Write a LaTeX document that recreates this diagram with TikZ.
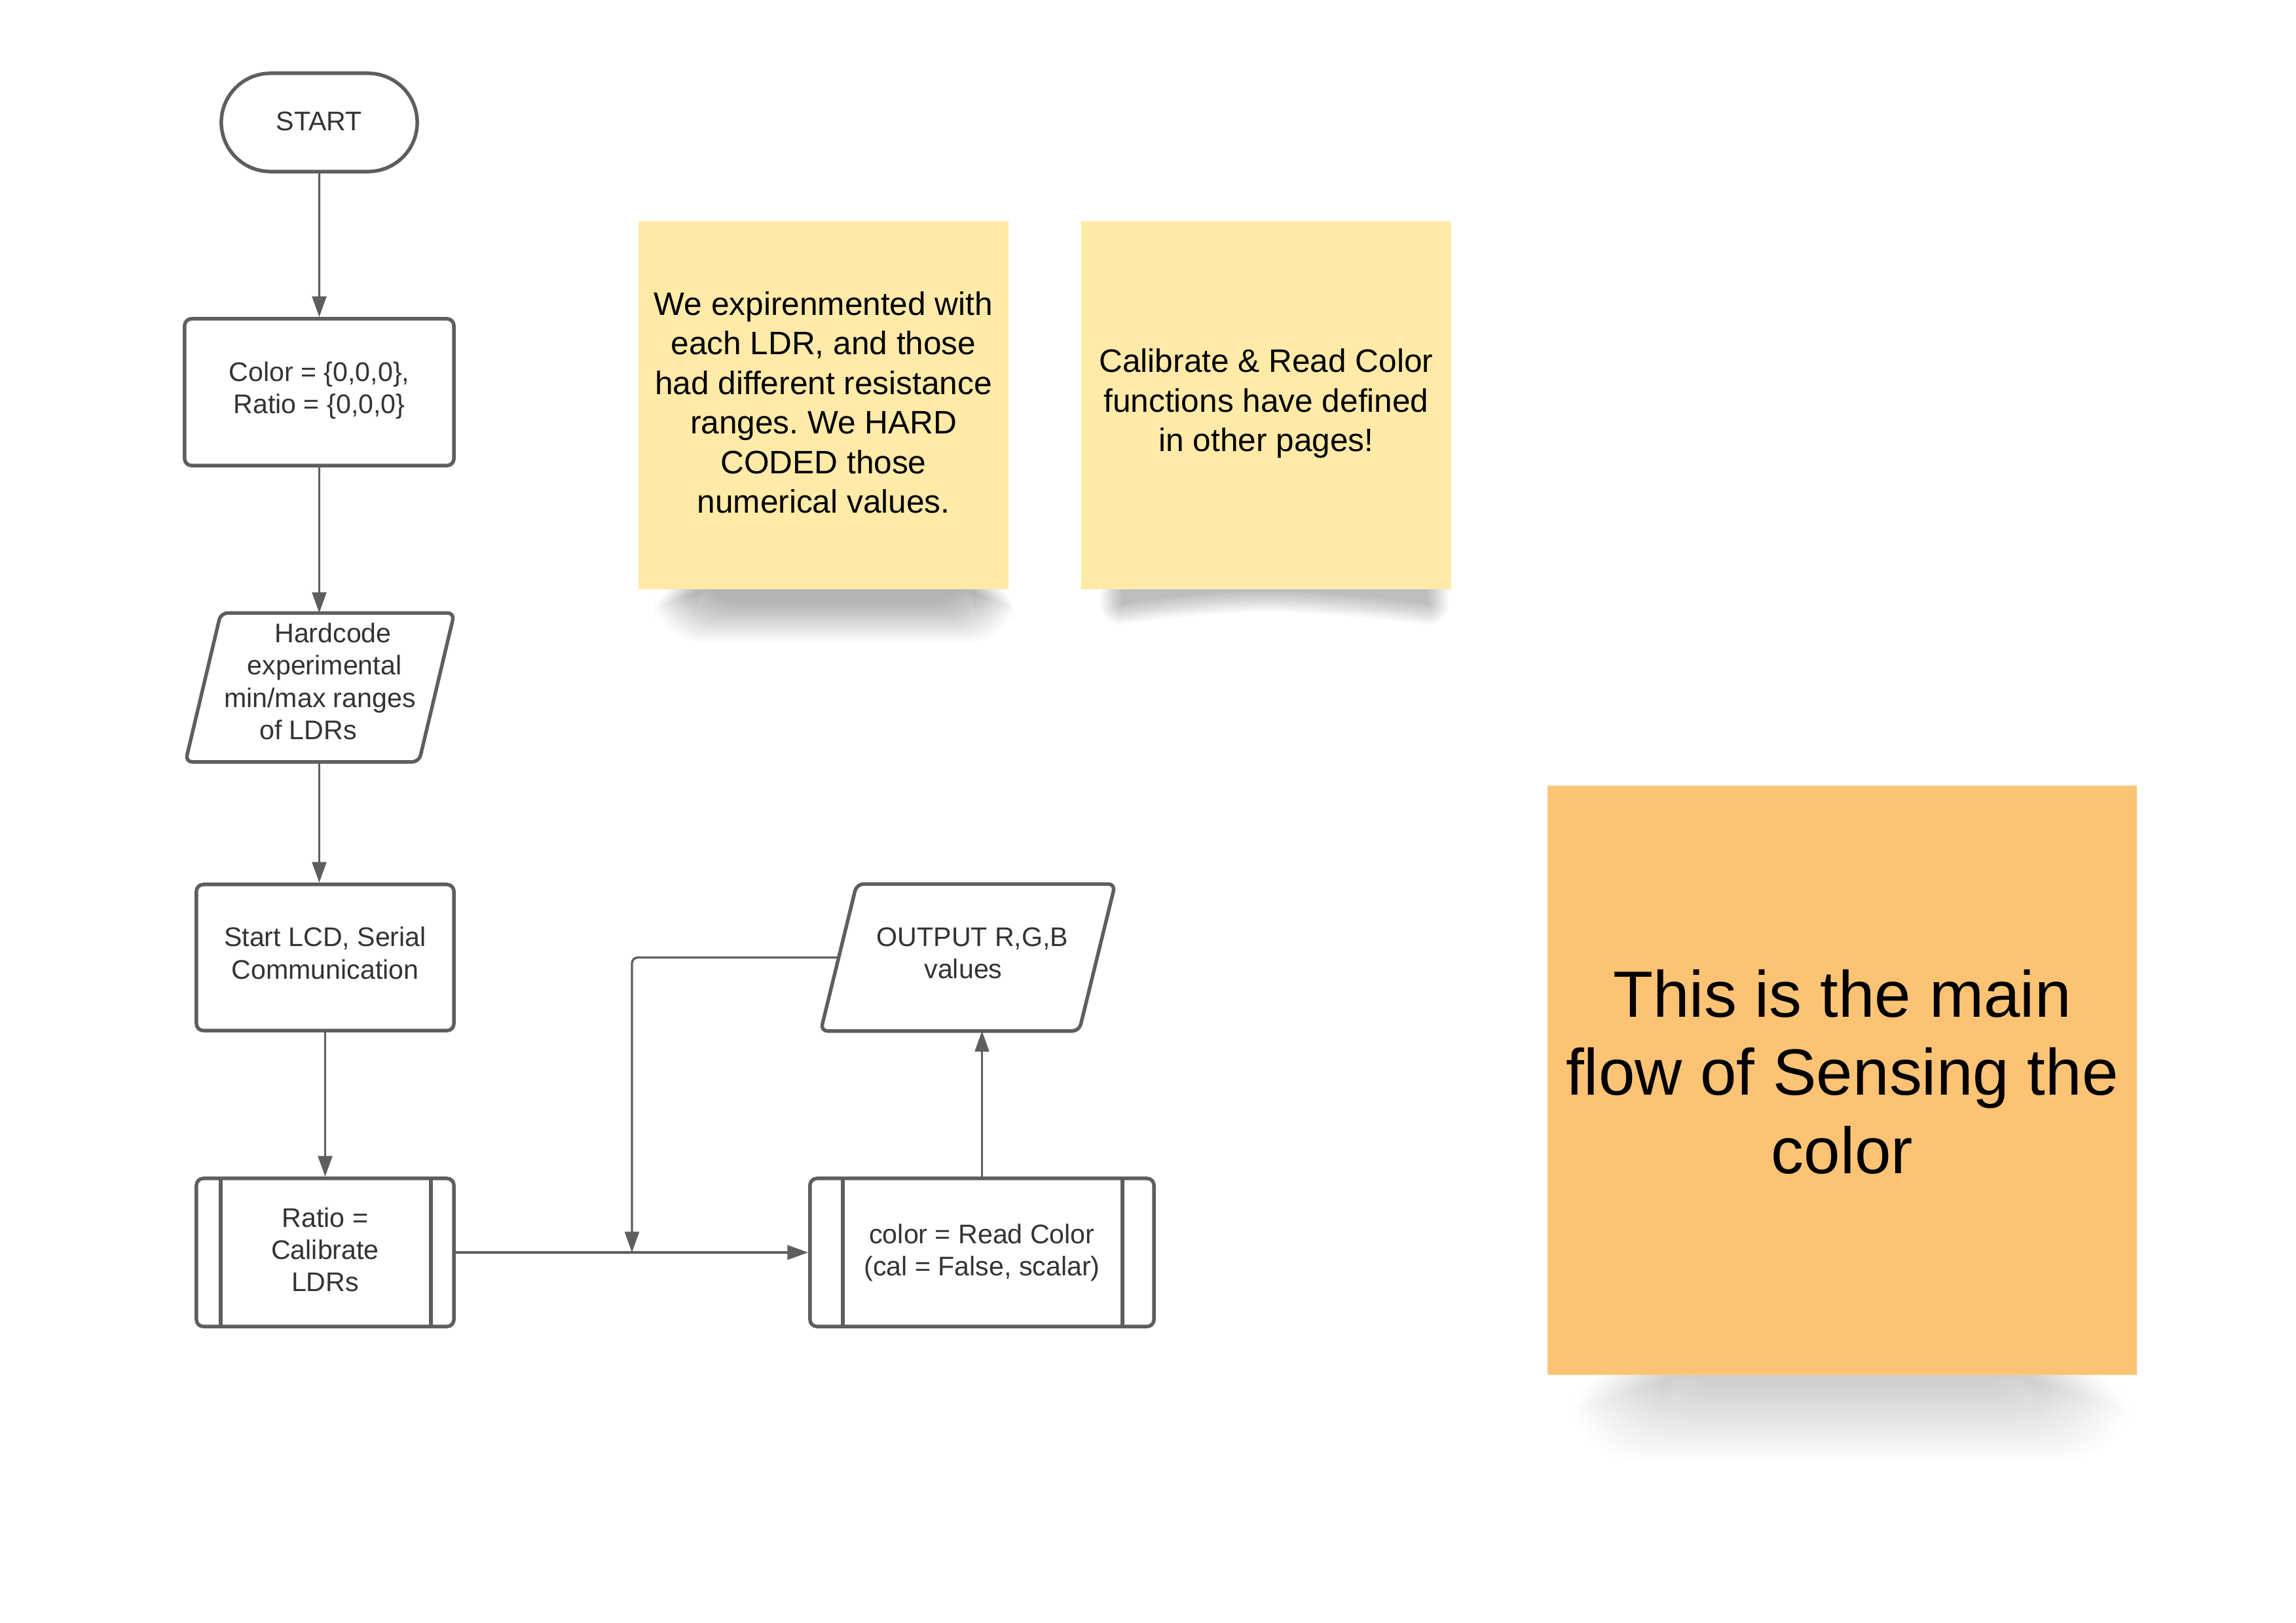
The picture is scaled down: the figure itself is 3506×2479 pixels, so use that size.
\documentclass[tikz,border=0pt]{standalone}
\usepackage{fontspec}
\setmainfont{Liberation Sans}
\frenchspacing
\usetikzlibrary{arrows.meta,calc,shapes.misc}
\definecolor{linec}{HTML}{5E5E5E}
\definecolor{txtc}{HTML}{333333}
\definecolor{stickyc}{HTML}{FFEAA7}
\definecolor{orangec}{HTML}{FCC374}
\tikzset{
  flowfont/.style={font=\fontsize{11.7}{14}\selectfont, text=txtc},
  procbox/.style={draw=linec, line width=1.55pt, rounded corners=3pt, flowfont, align=center, inner sep=0pt},
  termbox/.style={draw=linec, line width=1.55pt, rounded rectangle, flowfont, inner sep=0pt},
  ghost/.style={inner sep=0pt, flowfont, align=center},
  slantpath/.style={draw=linec, line width=1.55pt, rounded corners=3pt},
  innerline/.style={draw=linec, line width=1.55pt},
  conn/.style={draw=linec, line width=0.95pt, -{Triangle[length=9pt,width=6.2pt]}},
  notebox/.style={fill=stickyc, inner sep=0pt, align=center, text=black, font=\fontsize{14.1}{17.2}\selectfont},
  mainnote/.style={fill=orangec, inner sep=0pt, align=center, text=black, font=\fontsize{28.4}{34}\selectfont},
  shtwo/.style={insert path={(1712,895) -- (2180,895) -- (2180,922) .. controls (2100,912) and (2000,903) .. (1935,903) .. controls (1870,903) and (1780,912) .. (1712,922) -- cycle}},
}
\begin{document}
\begin{tikzpicture}[x=0.01cm,y=-0.01cm]
\useasboundingbox (0,0) rectangle (3506,2479);
\fill[white] (0,0) rectangle (3506,2479);

% shadows of the notes
\foreach \i in {0,...,15}
  \fill[black, opacity=0.019, rounded corners=20pt] (1000+4*\i, 880) rectangle (1550-4*\i, 980-4*\i);
\foreach \w in {0,2,...,18}{
  \begin{scope}[transparency group, opacity=0.026]
    \filldraw[black, line width=\w pt, line join=round, shtwo];
  \end{scope}
}
\foreach \i in {0,...,23}
  \fill[black, opacity=0.009, rounded corners=30pt] (2400+6*\i, 2080) rectangle (3250-6*\i, 2232-5*\i);

% sticky notes
\node[notebox, text depth=2.6pt, minimum width=5.65cm, minimum height=5.62cm] (note1) at (1257.5,619)
  {We expirenmented with\\each LDR, and those\\had different resistance\\ranges. We HARD\\CODED those\\numerical values.};
\node[notebox, text depth=4.3pt, minimum width=5.65cm, minimum height=5.62cm] (note2) at (1933.5,619)
  {Calibrate \& Read Color\\functions have defined\\in other pages!};
\node[mainnote, text depth=7.6pt, minimum width=9cm, minimum height=9cm] (main) at (2813,1650)
  {This is the main\\flow of Sensing the\\color};

% flowchart
\node[termbox, text depth=1.3pt, minimum width=2.99cm, minimum height=1.5cm] (start) at (487.5,187) {START};
\node[procbox, text depth=3.8pt, minimum width=4.11cm, minimum height=2.24cm] (init) at (487.5,599)
  {Color = \{0,0,0\},\\Ratio = \{0,0,0\}};
\node[ghost, text depth=5.3pt, minimum width=4.09cm, minimum height=2.26cm] (hard) at (488.5,1050)
  {\hspace*{0.40cm}Hardcode\\\hspace*{0.14cm}experimental\\min/max ranges\hspace*{0.14cm}\\of LDRs\hspace*{0.36cm}};
\draw[slantpath] ($(hard.north west)+(54,0)$) -- (hard.north east) -- ($(hard.south east)+(-54,0)$) -- (hard.south west) -- cycle;
\node[procbox, text depth=4pt, minimum width=3.93cm, minimum height=2.23cm] (lcd) at (496.5,1462.5)
  {Start LCD, Serial\\Communication};
\node[procbox, text depth=2.6pt, minimum width=3.93cm, minimum height=2.26cm] (ratio) at (496.5,1913)
  {Ratio =\\Calibrate\\LDRs};
\draw[innerline] ($(ratio.north west)+(40,0)$) -- ($(ratio.south west)+(40,0)$);
\draw[innerline] ($(ratio.north east)+(-38,0)$) -- ($(ratio.south east)+(-38,0)$);
\node[procbox, minimum width=5.25cm, minimum height=2.26cm] (read) at (1499.5,1913)
  {color = Read Color\\(cal = False, scalar)};
\draw[innerline] ($(read.north west)+(53,0)$) -- ($(read.south west)+(53,0)$);
\draw[innerline] ($(read.north east)+(-51,0)$) -- ($(read.south east)+(-51,0)$);
\node[ghost, text depth=4pt, minimum width=4.48cm, minimum height=2.23cm] (out) at (1478,1462.5)
  {\hspace*{0.14cm}OUTPUT R,G,B\\values\hspace*{0.14cm}};
\draw[slantpath] ($(out.north west)+(55,0)$) -- (out.north east) -- ($(out.south east)+(-55,0)$) -- (out.south west) -- cycle;

% connectors
\coordinate (join) at ($(ratio.east)!0.5!(read.west)$);
\draw[conn] (start) -- (init);
\draw[conn] (init.south) -- (init.south |- hard.north);
\draw[conn] (init.south |- hard.south) -- (init.south |- lcd.north);
\draw[conn] (lcd) -- (ratio);
\draw[conn] (ratio) -- (read);
\draw[conn] (read.north) -- (read.north |- out.south);
\draw[conn, rounded corners=2.5pt] ($(out.west)+(27,0)$) -| (join);
\end{tikzpicture}
\end{document}
